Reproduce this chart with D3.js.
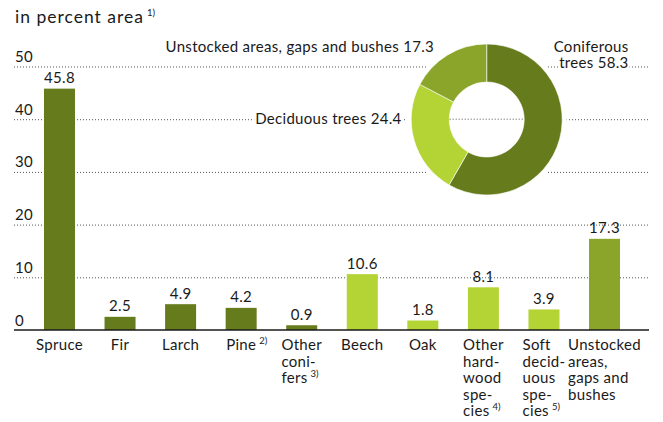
<!DOCTYPE html>
<html>
<head>
<meta charset="utf-8">
<script src="https://cdn.jsdelivr.net/npm/d3@7"></script>
<style>
  html, body { margin: 0; padding: 0; background: #fff; }
  svg text { font-family: Lato, "Open Sans", sans-serif; fill: #1a1a1a; letter-spacing: 0.3px; }
</style>
</head>
<body>
<svg id="chart" width="663" height="422"></svg>
<script>
// Tree species share of forest area
const categories = ["Spruce", "Fir", "Larch", "Pine", "Other conifers", "Beech", "Oak",
  "Other hardwood species", "Soft deciduous species", "Unstocked areas, gaps and bushes"];
const categoryLines = [
  ["Spruce"], ["Fir"], ["Larch"], ["Pine"], ["Other", "coni-", "fers"], ["Beech"], ["Oak"],
  ["Other", "hard-", "wood", "spe-", "cies"], ["Soft", "decid-", "uous", "spe-", "cies"],
  ["Unstocked", "areas,", "gaps and", "bushes"]
];
const footnotes = ["", "", "", "2)", "3)", "", "", "4)", "5)", ""];
const values = [45.8, 2.5, 4.9, 4.2, 0.9, 10.6, 1.8, 8.1, 3.9, 17.3];
const groups = ["conifer", "conifer", "conifer", "conifer", "conifer",
  "deciduous", "deciduous", "deciduous", "deciduous", "unstocked"];
const yTicks = [0, 10, 20, 30, 40, 50];

const donutNames = ["Coniferous trees", "Deciduous trees", "Unstocked areas, gaps and bushes"];
const donutGroups = ["conifer", "deciduous", "unstocked"];
const donutValues = [58.3, 24.4, 17.3];

const colors = { conifer: "#667b1c", deciduous: "#b4d334", unstocked: "#8aa52a" };

const svg = d3.select("#chart");

const x = d3.scaleBand().domain(categories).range([29.2, 634.8])
  .paddingInner(0.488).paddingOuter(0.244);
const y = d3.scaleLinear().domain([0, 50]).range([330, 66.5]);

// Title
const title = svg.append("text").attr("x", 15).attr("y", 23)
  .style("font-size", "17.5px").style("letter-spacing", "1px");
title.append("tspan").text("in percent area");
title.append("tspan").attr("dx", 3).attr("dy", -7).style("font-size", "9.5px")
  .style("letter-spacing", "0px").text("1)");

// Horizontal dotted gridlines
svg.append("g").attr("class", "grid").attr("transform", "translate(14,0)")
  .call(d3.axisRight(y).tickValues(yTicks.filter(d => d > 0)).tickSize(636).tickFormat(""))
  .call(g => g.select(".domain").remove())
  .call(g => g.selectAll("line").attr("stroke", "#555").attr("stroke-width", 1)
    .attr("stroke-dasharray", "1,2"));

// Tick labels sit above their gridline
svg.append("g").selectAll("text").data(yTicks).join("text")
  .attr("x", 15).attr("y", d => y(d) - 4.5)
  .style("font-size", "15px").text(d => d);

// Bars
svg.append("g").selectAll("rect").data(values).join("rect")
  .attr("x", (d, i) => x(categories[i]))
  .attr("width", x.bandwidth())
  .attr("y", d => y(d))
  .attr("height", d => y(0) - y(d))
  .attr("fill", (d, i) => colors[groups[i]]);

svg.append("g").selectAll("text").data(values).join("text")
  .attr("x", (d, i) => x(categories[i]) + x.bandwidth() / 2)
  .attr("y", d => y(d) - 5.5)
  .attr("text-anchor", "middle")
  .style("font-size", "15px")
  .text(d => d.toFixed(1));

// Baseline
svg.append("line").attr("x1", 14).attr("x2", 649).attr("y1", y(0)).attr("y2", y(0))
  .attr("stroke", "#1a1a1a").attr("stroke-width", 1.3);

// Category labels: left-aligned lines, block centred under the bar
const catG = svg.append("g");
categories.forEach((c, i) => {
  const cx = x(c) + x.bandwidth() / 2;
  const t = catG.append("text").style("font-size", "15px").attr("y", 350);
  categoryLines[i].forEach((line, j) => {
    t.append("tspan").attr("class", "ln").attr("x", 0).attr("dy", j === 0 ? 0 : 16.5).text(line);
  });
  if (footnotes[i]) {
    t.append("tspan").attr("dx", 3).attr("dy", -6).style("font-size", "9.5px")
      .style("letter-spacing", "0px").text(footnotes[i]);
  }
  let w = 0;
  t.selectAll("tspan.ln").each(function () { w = Math.max(w, this.getComputedTextLength()); });
  t.selectAll("tspan.ln").attr("x", cx - w / 2);
});

// Donut
const cx0 = 486.7, cy0 = 119.5;
const pie = d3.pie().sort(null).value(d => d)(donutValues);
const arc = d3.arc().innerRadius(37.5).outerRadius(75.5);
const donut = svg.append("g").attr("transform", `translate(${cx0},${cy0})`);
donut.append("circle").attr("r", 80).attr("fill", "#fff");
donut.selectAll("path").data(pie).join("path")
  .attr("d", arc)
  .attr("fill", (d, i) => colors[donutGroups[i]])
  .attr("stroke", "#fff").attr("stroke-width", 0.6);
// gridline continues through the hole
donut.append("line").attr("x1", -37).attr("x2", 37).attr("y1", y(40) - cy0).attr("y2", y(40) - cy0)
  .attr("stroke", "#555").attr("stroke-dasharray", "1,2");

// Donut labels on a white backing
function label(lines, xAnchor, baseY, anchor) {
  const g = svg.append("g");
  const t = g.append("text").attr("text-anchor", anchor).style("font-size", "15px");
  lines.forEach((l, j) => t.append("tspan").attr("x", xAnchor).attr("y", baseY + j * 16.5).text(l));
  t.selectAll("tspan").each(function () {
    const b = this.getBBox();
    g.insert("rect", "text").attr("x", b.x - 1).attr("y", b.y + 2).attr("width", b.width + 2)
      .attr("height", b.height - 3).attr("fill", "#fff");
  });
}
label([donutNames[2] + " " + donutValues[2].toFixed(1)], 434, 51.5, "end");
label([donutNames[1] + " " + donutValues[1].toFixed(1)], 401.5, 124, "end");
label(["Coniferous", "trees " + donutValues[0].toFixed(1)], 628.5, 51.5, "end");
</script>
</body>
</html>
